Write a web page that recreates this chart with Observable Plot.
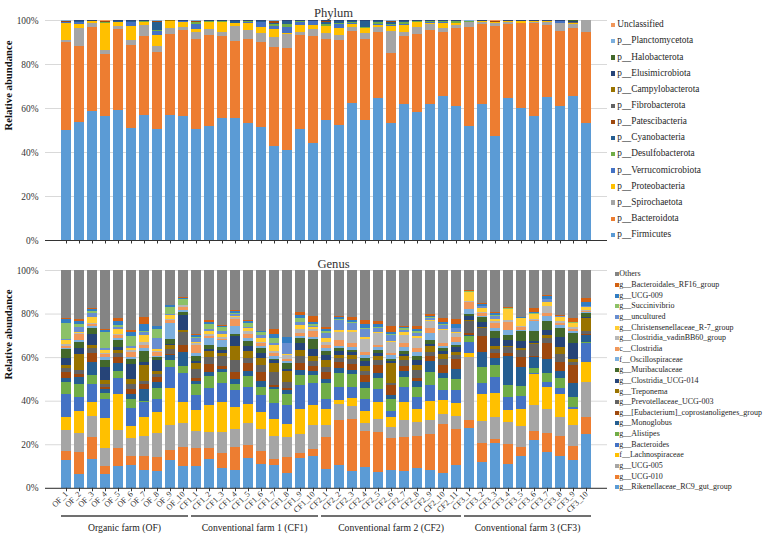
<!DOCTYPE html>
<html>
<head>
<meta charset="utf-8">
<script src="https://cdn.jsdelivr.net/npm/d3@7"></script>
<script src="https://cdn.jsdelivr.net/npm/@observablehq/plot@0.6"></script>
<style>
  body { margin: 0; background: #fff; }
  #wrap { position: relative; width: 767px; height: 537px; overflow: hidden; font-family: 'Liberation Serif', 'Times New Roman', serif; }
  #phylum { position: absolute; left: 0; top: 0; }
  #genus { position: absolute; left: 0; top: 248px; }
  .lg { position: absolute; white-space: nowrap; color: #262626; font-family: 'Liberation Serif', 'Times New Roman', serif; }
</style>
</head>
<body>
<div id="wrap">
  <div id="phylum"></div>
  <div id="genus"></div>
</div>
<script>
// Sample names (x-axis tick labels)
const samples = [
  "OF_1","OF_2","OF_3","OF_4","OF_5","OF_6","OF_7","OF_8","OF_9","OF_10",
  "CF1_1","CF1_2","CF1_3","CF1_4","CF1_5","CF1_6","CF1_7","CF1_8","CF1_9","CF1_10",
  "CF2_1","CF2_2","CF2_3","CF2_4","CF2_5","CF2_6","CF2_7","CF2_8","CF2_9","CF2_10","CF2_11",
  "CF3_1","CF3_2","CF3_3","CF3_4","CF3_5","CF3_6","CF3_7","CF3_8","CF3_9","CF3_10"
];

// Farm groups shown under the genus chart
const groupLabels = ["Organic farm (OF)", "Conventional farm 1 (CF1)", "Conventional farm 2 (CF2)", "Conventional farm 3 (CF3)"];
const groupFirst = ["OF_1", "CF1_1", "CF2_1", "CF3_1"];
const groupLast = ["OF_10", "CF1_10", "CF2_11", "CF3_10"];

// ---- Phylum relative abundance (%) per sample, bottom to top of the stack ----
const p_Firmicutes = [50.0,53.8,58.6,56.7,59.2,51.1,56.8,50.6,56.8,56.5, 50.6,51.8,55.5,55.8,53.2,51.4,42.9,40.9,50.6,44.2, 54.8,52.3,62.4,54.7,64.7,53.0,61.8,58.5,62.0,65.6,61.2, 52.1,62.1,47.6,64.8,60.3,56.5,65.5,61.1,65.8,53.0];
const p_Bacteroidota = [40.0,34.7,38.5,28.1,36.7,37.5,36.2,35.0,37.0,39.4, 40.8,41.4,37.4,35.1,38.6,38.8,45.1,46.7,42.7,49.0, 36.6,38.9,32.8,36.7,30.0,31.8,31.1,35.3,33.6,29.1,35.3, 44.9,36.4,50.0,33.7,38.8,42.6,32.7,34.7,31.3,41.5];
const p_Spirochaetota = [1.2,7.9,1.8,2.0,1.4,2.3,5.2,2.6,3.0,1.4, 3.3,2.7,1.9,6.7,4.0,4.0,4.7,6.0,1.7,3.5, 3.1,2.1,2.1,3.0,2.0,9.9,1.9,3.3,2.7,1.8,1.4, 2.1,1.0,1.6,1.0,0.3,0.6,1.5,3.6,1.5,5.5];
const p_Proteobacteria = [7.9,2.1,0.7,12.3,1.8,6.5,1.3,5.0,2.9,2.4, 1.1,3.2,4.3,1.3,3.3,2.9,3.4,0.6,2.9,1.8, 2.8,3.1,1.2,2.1,1.2,2.3,2.8,2.1,0.8,2.1,0.9, 0.3,0.2,0.3,0.5,0.6,0.2,0.2,0.1,0.5,0.0];
const p_Verrucomicrobiota = [0.1,0.7,0.1,0.1,0.2,1.7,0.1,1.8,0.1,0.1, 2.4,0.3,0.2,0.1,0.3,2.0,1.2,2.8,1.6,1.5, 0.3,2.1,0.5,0.3,0.2,0.6,0.9,0.2,0.2,0.5,0.2, 0.1,0.1,0.1,0.0,0.1,0.0,0.0,0.6,0.1,0.0];
const p_Desulfobacterota = [0.2,0.2,0.05,0.1,0.1,0.1,0.05,0.8,0.05,0.1, 0.7,0.2,0.3,0.1,0.2,0.2,1.2,1.6,0.2,0.1, 0.6,0.3,0.5,0.3,0.9,0.6,0.6,0.2,0.4,0.3,0.6, 0.1,0.05,0.05,0.05,0.05,0.05,0.05,0.05,0.05,0.0];
const p_Cyanobacteria = [0.1,0.2,0.05,0.1,0.2,0.4,0.1,3.3,0.05,0.1, 0.3,0.1,0.1,0.8,0.2,0.3,0.5,1.1,0.1,0.1, 1.2,0.9,0.2,2.6,0.4,0.6,0.4,0.2,0.1,0.2,0.1, 0.05,0.05,0.05,0.05,0.05,0.05,0.05,0.05,0.05,0.0];
const p_Patescibacteria = [0.3,0.2,0.1,0.4,0.2,0.2,0.2,0.5,0.05,0.1, 0.3,0.1,0.1,0.1,0.1,0.2,0.6,0.1,0.1,0.1, 0.4,0.2,0.2,0.2,0.2,0.5,0.2,0.1,0.1,0.1,0.1, 0.1,0.1,0.1,0.1,0.1,0.1,0.1,0.1,0.1,0.0];
const p_Fibrobacterota = [0.05,0.1,0.05,0.05,0.05,0.05,0.05,0.1,0.05,0.05, 0.1,0.05,0.05,0.05,0.05,0.05,0.2,0.05,0.05,0.05, 0.1,0.05,0.1,0.05,0.05,0.2,0.1,0.05,0.05,0.05,0.05, 0.05,0.05,0.05,0.05,0.05,0.05,0.05,0.05,0.1,0.0];
const p_Campylobacterota = [0.05,0.05,0.05,0.05,0.05,0.05,0.05,0.05,0.05,0.05, 0.05,0.05,0.05,0.05,0.05,0.05,0.05,0.05,0.05,0.05, 0.05,0.05,0.05,0.05,0.05,0.05,0.05,0.05,0.05,0.05,0.05, 0.05,0.05,0.05,0.05,0.05,0.05,0.05,0.05,0.05,0.0];
const p_Elusimicrobiota = [0.05,0.05,0.05,0.05,0.05,0.05,0.05,0.1,0.05,0.05, 0.05,0.05,0.05,0.05,0.05,0.05,0.1,0.1,0.05,0.05, 0.05,0.05,0.05,0.05,0.05,0.05,0.05,0.05,0.05,0.05,0.05, 0.05,0.05,0.05,0.05,0.05,0.05,0.05,0.05,0.4,0.0];
const p_Halobacterota = [0.05,0.05,0.05,0.05,0.05,0.05,0.05,0.05,0.05,0.05, 0.05,0.05,0.05,0.05,0.05,0.05,0.05,0.05,0.05,0.05, 0.05,0.05,0.05,0.05,0.05,0.05,0.05,0.05,0.05,0.05,0.05, 0.05,0.05,0.05,0.05,0.05,0.05,0.05,0.05,0.5,0.0];
const p_Planctomycetota = [0.05,0.05,0.05,0.05,0.05,0.05,0.05,0.05,0.05,0.05, 0.05,0.05,0.05,0.05,0.05,0.05,0.05,0.05,0.05,0.05, 0.05,0.05,0.05,0.05,0.05,0.05,0.05,0.05,0.05,0.05,0.05, 0.05,0.05,0.05,0.05,0.05,0.05,0.05,0.05,0.05,0.0];
const p_Unclassified = [0.2,0.1,0.1,0.3,0.1,0.1,0.1,0.2,0.05,0.1, 0.2,0.1,0.1,0.1,0.1,0.1,0.2,0.1,0.1,0.1, 0.1,0.1,0.1,0.1,0.1,0.2,0.1,0.1,0.1,0.1,0.1, 0.2,0.1,0.4,0.1,0.1,0.1,0.1,0.1,0.1,0.0];

const phylumNames = ["p__Firmicutes","p__Bacteroidota","p__Spirochaetota","p__Proteobacteria","p__Verrucomicrobiota","p__Desulfobacterota","p__Cyanobacteria","p__Patescibacteria","p__Fibrobacterota","p__Campylobacterota","p__Elusimicrobiota","p__Halobacterota","p__Planctomycetota","Unclassified"];
const phylumValues = [p_Firmicutes,p_Bacteroidota,p_Spirochaetota,p_Proteobacteria,p_Verrucomicrobiota,p_Desulfobacterota,p_Cyanobacteria,p_Patescibacteria,p_Fibrobacterota,p_Campylobacterota,p_Elusimicrobiota,p_Halobacterota,p_Planctomycetota,p_Unclassified];
const phylumColors = ["#5B9BD5","#ED7D31","#A5A5A5","#FFC000","#4472C4","#70AD47","#255E91","#9E480E","#636363","#997300","#264478","#43682B","#7CAFDD","#F1975A"];

// ---- Genus relative abundance (%) per sample, bottom to top of the stack ----
const g_Rikenellaceae_RC9 = [12.7,6.3,13.2,6.4,10.0,10.7,8.1,7.8,12.7,10.0, 10.2,13.4,9.0,8.1,13.8,11.0,10.3,7.0,13.9,14.6, 8.7,10.4,7.5,9.6,7.4,8.1,7.8,9.3,8.1,6.9,10.4, 27.3,11.9,20.5,11.1,14.4,22.0,16.5,14.7,12.7,24.7];
const g_UCG_010 = [4.3,10.1,10.1,3.4,8.1,3.8,6.4,6.4,4.5,9.1, 8.3,5.0,6.8,10.7,5.8,6.0,2.7,7.2,2.0,3.4, 14.7,20.8,24.0,16.4,18.0,14.6,15.6,14.6,16.6,22.4,16.6, 3.8,8.5,2.0,9.0,4.4,4.1,8.8,9.0,6.4,7.6];
const g_UCG_005 = [9.5,8.9,9.6,8.7,8.4,8.3,9.4,11.1,11.6,10.8, 7.6,7.2,9.8,8.2,10.3,10.1,10.8,8.9,8.9,10.9, 5.4,7.1,6.0,3.9,6.0,5.3,7.7,6.4,6.4,4.6,5.9, 29.1,10.4,10.2,10.2,9.7,11.9,11.1,8.9,9.7,16.1];
const f_Lachnospiraceae = [6.1,10.1,6.5,13.5,16.5,5.7,8.6,9.6,17.1,9.9, 9.6,12.4,13.9,10.0,8.8,7.8,7.7,6.3,11.6,9.2, 7.4,2.1,3.7,5.5,8.0,4.6,8.4,5.7,8.7,6.4,6.1, 1.7,12.3,10.6,5.4,7.5,14.1,10.0,10.4,7.2,9.5];
const g_Bacteroides = [10.3,6.4,8.1,8.9,7.5,8.3,6.7,6.1,9.7,13.5, 6.9,7.9,8.8,8.0,7.4,7.7,7.4,8.6,10.6,9.8, 4.6,6.1,5.0,5.6,5.8,2.6,7.0,5.8,7.4,4.6,5.9, 5.2,4.9,7.7,6.1,6.3,0.5,2.3,2.6,1.2,8.7];
const g_Alistipes = [5.5,5.8,4.3,2.4,3.1,4.2,0.6,4.9,3.4,3.1, 4.9,5.4,4.9,2.7,5.3,3.8,6.3,5.1,4.6,3.9, 7.3,6.4,6.2,4.9,5.0,5.5,4.3,4.3,5.8,5.6,4.9, 2.4,7.6,5.4,5.2,4.4,2.5,3.8,4.6,4.6,0.3];
const g_Monoglobus = [1.8,3.4,5.8,2.0,3.5,1.9,5.4,2.8,1.9,6.4, 1.5,2.0,1.5,2.3,2.4,2.5,1.2,1.8,2.4,2.0, 2.0,2.3,1.5,2.8,2.6,1.9,2.8,2.9,5.2,2.3,4.7, 0.8,6.6,3.3,13.5,8.9,5.0,6.6,3.4,6.1,3.2];
const g_Eubacterium_copro = [3.1,1.5,4.1,0.8,2.8,2.7,2.3,2.3,0.8,3.2, 1.6,3.5,1.2,3.3,3.3,4.3,0.8,1.0,3.1,2.3, 3.2,2.4,3.0,3.1,3.6,4.6,2.3,1.5,2.3,3.6,4.5, 0.6,7.5,2.0,1.2,4.3,0.5,7.2,4.3,8.5,0.3];
const g_Prevotellaceae_UCG_003 = [1.5,1.6,2.3,1.5,1.8,2.0,1.7,1.2,2.3,6.4, 4.0,3.2,4.5,5.5,2.3,3.0,6.0,2.8,3.5,2.2, 2.3,2.0,2.4,2.0,2.3,0.8,3.0,3.5,2.0,2.8,2.0, 5.5,3.5,2.0,3.1,3.3,5.5,2.6,3.5,1.5,1.7];
const g_Treponema = [1.6,7.6,1.5,1.9,1.5,2.6,7.2,1.4,1.5,0.8, 2.8,2.7,1.5,6.5,3.3,3.5,4.0,5.0,2.5,2.3, 3.0,1.6,1.8,2.2,1.8,9.1,1.5,2.5,2.4,2.3,1.5, 0.8,0.8,1.5,0.5,0.8,0.6,1.2,3.4,1.1,5.7];
const g_Clostridia_UCG_014 = [3.3,2.6,4.9,6.1,1.6,6.5,1.5,5.1,0.8,6.9, 1.0,1.2,1.5,4.6,2.6,2.4,1.5,0.8,3.2,3.2, 2.5,1.5,1.2,2.2,1.5,1.2,1.2,2.0,1.2,1.5,2.0, 1.5,2.3,3.4,2.5,3.5,0.8,2.3,4.3,7.3,0.5];
const g_Muribaculaceae = [4.0,2.6,3.1,3.1,3.0,2.3,5.0,1.5,2.0,1.5, 2.0,1.5,1.2,0.8,2.0,2.2,0.5,3.0,2.5,4.5, 1.5,1.5,1.0,1.2,1.2,1.0,1.2,2.0,1.9,1.2,1.0, 1.0,2.0,3.4,2.3,4.5,4.5,4.2,4.1,4.6,1.8];
const f_Oscillospiraceae = [0.6,0.8,0.8,1.2,1.1,1.2,1.1,0.5,7.7,0.8, 1.5,3.3,3.2,3.8,1.7,1.0,1.2,0.6,0.8,0.8, 1.5,0.8,1.2,1.5,1.6,1.8,2.0,2.0,3.1,0.9,1.6, 2.2,0.6,1.5,2.3,0.5,4.5,2.3,1.5,1.0,0.5];
const c_Clostridia = [0.6,3.0,0.7,1.4,1.2,2.0,1.5,1.5,1.0,1.5, 3.5,1.0,0.6,3.0,1.5,1.0,1.5,1.2,1.5,2.8, 1.5,2.8,2.0,1.5,0.8,1.0,1.8,1.8,2.3,1.3,2.0, 3.3,1.5,2.0,3.9,1.2,0.6,1.2,1.1,0.8,0.5];
const g_Clostridia_vadinBB60 = [0.9,0.5,0.5,0.5,0.7,1.1,1.3,0.6,0.5,0.7, 1.3,0.8,1.0,0.8,1.5,0.7,1.0,1.5,1.8,1.0, 1.3,3.9,5.0,6.0,5.3,5.0,3.5,4.5,3.0,6.0,1.8, 0.6,0.5,1.0,0.7,0.6,0.3,3.4,0.9,1.0,0.5];
const g_Christensenellaceae_R7 = [2.0,0.5,3.1,1.3,2.1,1.1,3.3,0.9,1.8,0.2, 0.4,1.5,1.0,0.5,1.2,1.8,2.5,0.7,1.7,0.8, 1.8,0.6,0.8,1.0,0.8,0.5,1.5,1.0,0.5,0.6,0.8, 4.0,1.5,1.0,4.9,3.5,2.3,2.0,1.9,1.8,1.6];
const g_uncultured = [0.5,2.3,1.5,0.9,1.1,0.8,1.3,4.9,0.8,0.2, 1.8,0.8,1.5,0.8,0.8,1.2,1.2,4.8,1.6,0.8, 2.3,4.6,3.5,3.5,1.5,2.5,1.0,1.5,1.0,1.7,1.5, 0.2,1.0,1.5,0.3,0.2,0.3,1.0,0.2,0.3,0.3];
const g_Succinivibrio = [7.5,1.1,1.1,7.7,0.7,4.7,0.6,4.1,3.1,2.5, 0.4,2.4,2.0,0.8,1.5,1.6,2.4,0.4,1.6,0.5, 0.8,0.8,0.4,0.6,0.6,0.5,0.6,0.5,0.3,0.6,0.3, 0.2,0.2,0.3,0.2,0.1,0.2,0.4,0.1,0.2,0.2];
const g_UCG_009 = [1.5,1.6,0.9,0.9,2.0,1.9,3.0,1.6,0.8,0.5, 0.9,1.1,0.6,0.6,1.0,0.2,1.5,2.4,1.5,1.0, 1.1,0.8,0.8,1.5,1.3,1.0,0.5,1.2,0.8,1.0,1.8, 0.2,1.0,0.8,0.2,0.2,0.3,1.2,0.2,0.2,1.8];
const g_Bacteroidales_RF16 = [0.5,0.7,0.6,0.4,1.1,0.9,3.6,0.2,0.2,0.3, 0.2,0.6,0.3,0.5,0.5,0.2,2.2,0.2,1.4,3.0, 1.1,0.5,1.5,2.0,1.5,2.7,0.5,1.2,1.0,1.5,2.0, 0.4,0.2,0.8,0.2,0.2,1.9,0.4,0.2,1.6,1.8];
const g_Others = [22.2,22.7,17.3,27.0,22.2,27.4,21.4,25.5,16.0,12.7, 29.6,23.1,25.2,18.5,23.0,28.0,27.3,30.7,19.3,21.0, 26.0,21.0,21.5,23.0,23.4,25.7,25.8,25.8,20.0,22.2,22.7, 9.2,15.2,19.1,17.2,21.5,17.6,11.5,20.7,22.2,12.7];

const genusNames = ["g__Rikenellaceae_RC9_gut_group","g__UCG-010","g__UCG-005","f__Lachnospiraceae","g__Bacteroides","g__Alistipes","g__Monoglobus","g__[Eubacterium]_coprostanoligenes_group","g__Prevotellaceae_UCG-003","g__Treponema","g__Clostridia_UCG-014","g__Muribaculaceae","f__Oscillospiraceae","c__Clostridia","g__Clostridia_vadinBB60_group","g__Christensenellaceae_R-7_group","g__uncultured","g__Succinivibrio","g__UCG-009","g__Bacteroidales_RF16_group","Others"];
const genusValues = [g_Rikenellaceae_RC9,g_UCG_010,g_UCG_005,f_Lachnospiraceae,g_Bacteroides,g_Alistipes,g_Monoglobus,g_Eubacterium_copro,g_Prevotellaceae_UCG_003,g_Treponema,g_Clostridia_UCG_014,g_Muribaculaceae,f_Oscillospiraceae,c_Clostridia,g_Clostridia_vadinBB60,g_Christensenellaceae_R7,g_uncultured,g_Succinivibrio,g_UCG_009,g_Bacteroidales_RF16,g_Others];
const genusColors = ["#5B9BD5","#ED7D31","#A5A5A5","#FFC000","#4472C4","#70AD47","#255E91","#9E480E","#636363","#997300","#264478","#43682B","#7CAFDD","#F1975A","#B7B7B7","#FFCD33","#698ED0","#8CC168","#327DC2","#D26012","#848484"];

const yTicks = [0, 0.2, 0.4, 0.6, 0.8, 1];
const FONT = "'Liberation Serif', 'Times New Roman', serif";

function tidy(names, values) {
  return samples.flatMap((s, i) => names.map((n, k) => ({sample: s, taxon: n, value: values[k][i]})));
}

function stackedChart({rows, names, colors, height, marginTop, marginBottom, title, titleDy, labels}) {
  return Plot.plot({
    width: 767,
    height,
    marginLeft: 45,
    marginRight: 160,
    marginTop,
    marginBottom,
    style: {fontFamily: FONT, fontSize: "9.3px", color: "#333", background: "transparent", overflow: "visible"},
    x: {domain: samples, padding: 0.2, label: null},
    y: {domain: [0, 1], label: null},
    color: {domain: names, range: colors},
    marks: [
      Plot.gridY(yTicks, {stroke: "#d9d9d9", strokeOpacity: 1}),
      Plot.barY(rows, Plot.stackY({
        offset: "normalize",
        x: "sample", y: "value", fill: "taxon",
        shapeRendering: "crispEdges"
      })),
      Plot.axisY(yTicks, {tickSize: 0, tickPadding: 7, tickFormat: d => Math.round(d * 100) + "%", fontSize: 9.4, fill: "#333", label: null}),
      Plot.axisX({
        tickSize: 3.5, stroke: "#333",
        tickFormat: labels ? (d => d) : (() => ""),
        tickRotate: labels ? -45 : 0,
        tickPadding: 1, fontSize: 8.2, fill: "#333", label: null
      }),
      Plot.ruleY([0], {stroke: "#333", strokeWidth: 1}),
      Plot.text([title], {frameAnchor: "top", dy: titleDy, dx: 7, fontSize: 12.6, fill: "#333"}),
      Plot.text(["Relative abundance"], {frameAnchor: "left", rotate: -90, dx: -36.5, fontSize: 10.7, fontWeight: "bold", fill: "#111"})
    ]
  });
}

// Phylum chart
const phylumChart = stackedChart({
  rows: tidy(phylumNames, phylumValues),
  names: phylumNames, colors: phylumColors,
  height: 248, marginTop: 20, marginBottom: 8,
  title: "Phylum", titleDy: -12, labels: false
});
document.getElementById("phylum").appendChild(phylumChart);

// Genus chart
const genusChart = stackedChart({
  rows: tidy(genusNames, genusValues),
  names: genusNames, colors: genusColors,
  height: 289, marginTop: 22, marginBottom: 49.2,
  title: "Genus", titleDy: -11, labels: true
});
document.getElementById("genus").appendChild(genusChart);

// Farm group brackets under the genus sample labels, placed with the chart's x scale
const xs = genusChart.scale("x");
const gsvg = d3.select(genusChart);
groupLabels.forEach((label, i) => {
  const x0 = xs.apply(groupFirst[i]);
  const x1 = xs.apply(groupLast[i]) + xs.bandwidth;
  gsvg.append("line")
    .attr("x1", x0).attr("x2", x1).attr("y1", 268).attr("y2", 268)
    .attr("stroke", "#404040").attr("stroke-width", 1.4);
  gsvg.append("text")
    .attr("x", (x0 + x1) / 2).attr("y", 283)
    .attr("text-anchor", "middle")
    .style("font-family", FONT).attr("font-size", 9.7).attr("fill", "#222")
    .text(label);
});

// Legends (top entry = top of the stack)
function legend(names, colors, {top, step, sqX, sqSize, textX, fontSize}) {
  const wrap = document.getElementById("wrap");
  names.slice().reverse().forEach((n, i) => {
    const c = colors[names.length - 1 - i];
    const cy = top + i * step;
    const sq = document.createElement("div");
    sq.style.cssText = `position:absolute;left:${sqX}px;top:${cy - sqSize / 2}px;width:${sqSize}px;height:${sqSize}px;background:${c}`;
    wrap.appendChild(sq);
    const t = document.createElement("div");
    t.className = "lg";
    t.style.left = textX + "px";
    t.style.top = (cy - fontSize * 0.62) + "px";
    t.style.fontSize = fontSize + "px";
    t.style.lineHeight = (fontSize * 1.2) + "px";
    t.textContent = n;
    wrap.appendChild(t);
  });
}
legend(phylumNames, phylumColors, {top: 25, step: 16.15, sqX: 610.5, sqSize: 4.5, textX: 617.3, fontSize: 9.3});
legend(genusNames, genusColors, {top: 274.2, step: 10.66, sqX: 614.5, sqSize: 4, textX: 619.3, fontSize: 8.0});
</script>
</body>
</html>
